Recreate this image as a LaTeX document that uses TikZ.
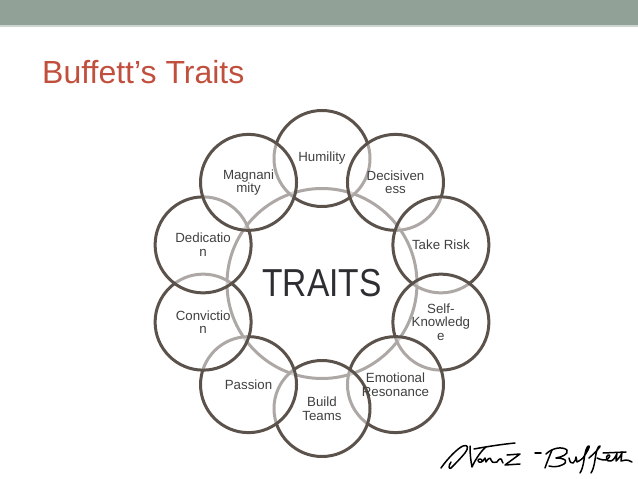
\documentclass[tikz,border=0pt]{standalone}
\usepackage{fontspec}
\setmainfont{Liberation Sans}
\usepackage{graphicx}
\usetikzlibrary{calc}

\definecolor{barcol}{RGB}{146,161,151}
\definecolor{barline}{RGB}{205,212,207}
\definecolor{titlecol}{RGB}{192,80,61}
\definecolor{ringcol}{RGB}{92,82,76}
\definecolor{labcol}{RGB}{64,64,64}
\definecolor{corecol}{RGB}{45,45,50}

% angle / name / label, drawn clockwise from the top
\def\traitlist{90/hum/Humility, 54/dec/Decisiven\\ess, 18/risk/Take Risk,
  -18/self/Self-\\Knowledg\\e, -54/emo/Emotional\\Resonance, -90/team/Build\\Teams,
  -126/pas/Passion, -162/conv/Convictio\\n, 162/ded/Dedicatio\\n, 126/mag/Magnani\\mity}

\begin{document}
\begin{tikzpicture}[
  x=1pt, y=-1pt,
  core/.style={circle, draw=ringcol, line width=3pt, minimum size=190pt, inner sep=0pt},
  trait/.style={circle, draw=ringcol, line width=3pt, fill=white, fill opacity=0.5,
    minimum size=96pt, inner sep=0pt},
  lab/.style={font=\fontsize{13.3}{13.6}\selectfont, text=labcol, align=center, inner sep=0pt},
  sig/.style={draw=black, line width=1.5pt, line cap=round, line join=round}
]
\path[use as bounding box] (0,0) rectangle (638,479);

\fill[barcol] (0,0) rectangle (638,25);
\fill[barline] (0,25) rectangle (638,27);

\node[anchor=base west, inner sep=0pt, text=titlecol, font=\fontsize{32}{36}\selectfont]
  (title) at (42,83) {Buffett’s Traits};

\node[core] (core) at (322,283.5) {};

\foreach \a/\n/\t in \traitlist
  \node[trait] (\n) at ({322+125*cos(\a)},{283.5-125*sin(\a)}) {};

\foreach \a/\n/\t in \traitlist
  \node[lab] (\n-lab) at (\n.center) {\t};

\node[font=\fontsize{39}{40}\selectfont, text=corecol, inner sep=0pt]
  (traits) at (core.center) {\scalebox{0.86}[1]{TRAITS}};

% signature
\path[sig] (441,468) .. controls (448,458) and (458,448) .. (463,446)
  .. controls (468,444) and (469,448) .. (465,453)
  .. controls (460,459) and (454,465) .. (451,468)
  .. controls (449,470) and (448,466) .. (451,462);
\path[sig] (470,446) .. controls (470,455) and (471,462) .. (472,467)
  .. controls (476,458) and (482,450) .. (486,447);
\path[sig] (474,449) .. controls (490,446) and (505,444) .. (515,443);
\path[sig] (483,461) .. controls (480,457) and (476,460) .. (479,462)
  .. controls (482,463) and (484,460) .. (485,458) -- (486,462)
  .. controls (488,458) and (491,457) .. (491,460)
  .. controls (491,462) and (493,463) .. (497,462)
  .. controls (499,458) and (502,458) .. (502,461) -- (503,463);
\path[sig] (507,455) -- (520,454) -- (505,465) -- (520,464);
\path[sig] (535,453) -- (541,453);
\path[sig] (545,468) .. controls (547,462) and (550,455) .. (552,450);
\path[sig] (546,454) .. controls (552,448) and (562,446) .. (567,450)
  .. controls (569,454) and (562,457) .. (556,458)
  .. controls (566,458) and (569,462) .. (562,465)
  .. controls (558,467) and (553,467) .. (549,466);
\path[sig] (569,458) .. controls (570,462) and (571,464) .. (573,463)
  .. controls (575,462) and (576,459) .. (576,457) -- (577,462)
  .. controls (579,461) and (581,460) .. (583,458);
\path[sig] (583,458) .. controls (587,452) and (590,447) .. (589,446)
  .. controls (587,445) and (585,452) .. (584,460)
  .. controls (583,466) and (582,470) .. (580,473);
\path[sig] (589,458) .. controls (596,452) and (601,446) .. (600,446)
  .. controls (598,445) and (596,452) .. (595,460)
  .. controls (594,466) and (593,470) .. (591,473);
\path[sig] (597,458) .. controls (601,460) and (604,460) .. (606,460)
  .. controls (610,458) and (611,454) .. (608,455)
  .. controls (605,457) and (606,462) .. (611,461)
  .. controls (614,460) and (616,456) .. (617,453) -- (616,461)
  .. controls (619,458) and (621,456) .. (622,452) -- (621,461)
  .. controls (624,460) and (627,459) .. (632,462);
\path[sig] (603,453) -- (626,452);
\end{tikzpicture}
\end{document}
